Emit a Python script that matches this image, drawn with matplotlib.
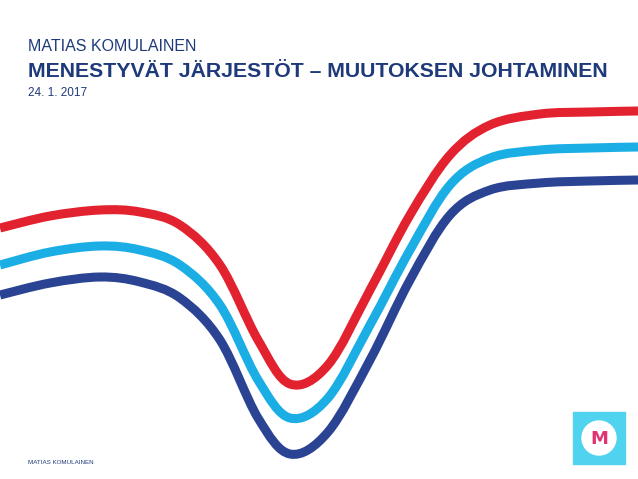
import matplotlib
matplotlib.use("Agg")
import matplotlib.pyplot as plt
import matplotlib.patches as mpatches
from matplotlib.path import Path

x_pts = [0, 50, 100, 140, 180, 220, 258, 290, 328, 370, 410, 450, 490, 540, 590, 638]
red_y = [228, 216, 210, 212, 225, 265, 340, 384, 365, 290, 215, 155, 125, 114, 112, 111]
light_y = [265, 252, 246, 250, 265, 305, 380, 418, 398, 325, 250, 185, 158, 150, 148, 147]
dark_y = [295, 283, 277, 282, 298, 340, 418, 454, 432, 360, 280, 215, 190, 183, 181, 180]


def smooth_path(xs, ys):
    pts = list(zip(xs, ys))
    verts = [pts[0]]
    codes = [Path.MOVETO]
    n = len(pts)
    for i in range(n - 1):
        p0 = pts[max(i - 1, 0)]
        p1 = pts[i]
        p2 = pts[i + 1]
        p3 = pts[min(i + 2, n - 1)]
        c1 = (p1[0] + (p2[0] - p0[0]) / 6, p1[1] + (p2[1] - p0[1]) / 6)
        c2 = (p2[0] - (p3[0] - p1[0]) / 6, p2[1] - (p3[1] - p1[1]) / 6)
        verts += [c1, c2, p2]
        codes += [Path.CURVE4] * 3
    return Path(verts, codes)


fig = plt.figure(figsize=(6.38, 4.79), dpi=100)
ax = fig.add_axes([0, 0, 1, 1])
ax.set_xlim(0, 638)
ax.set_ylim(479, 0)
ax.axis("off")

for ys, c in [(red_y, "#e3222f"), (light_y, "#1aaee5"), (dark_y, "#2a4392")]:
    ax.add_patch(mpatches.PathPatch(smooth_path(x_pts, ys), fill=False, edgecolor=c,
                                    lw=6.5, capstyle="butt", joinstyle="round"))

ax.text(28, 46, "MATIAS KOMULAINEN", fontsize=11.5, color="#1f3a7a", va="center", family="Liberation Sans")
ax.text(28, 71, "MENESTYVÄT JÄRJESTÖT – MUUTOKSEN JOHTAMINEN", fontsize=15.3, color="#1f3a7a",
        va="center", fontweight="bold", family="Liberation Sans")
ax.text(28, 93, "24. 1. 2017", fontsize=8.5, color="#1f3a7a", va="center", family="Liberation Sans")
ax.text(28, 463, "MATIAS KOMULAINEN", fontsize=4.5, color="#1f3a7a", va="center", family="Liberation Sans")

ax.add_patch(mpatches.Rectangle((573, 412), 52, 52, color="#4fd3ee"))
ax.add_patch(mpatches.Circle((599, 438), 17, color="white"))
ax.text(599, 439, "M", fontsize=13, color="#e0336f", ha="center", va="center", fontweight="bold")

fig.savefig("out.png", dpi=100)
